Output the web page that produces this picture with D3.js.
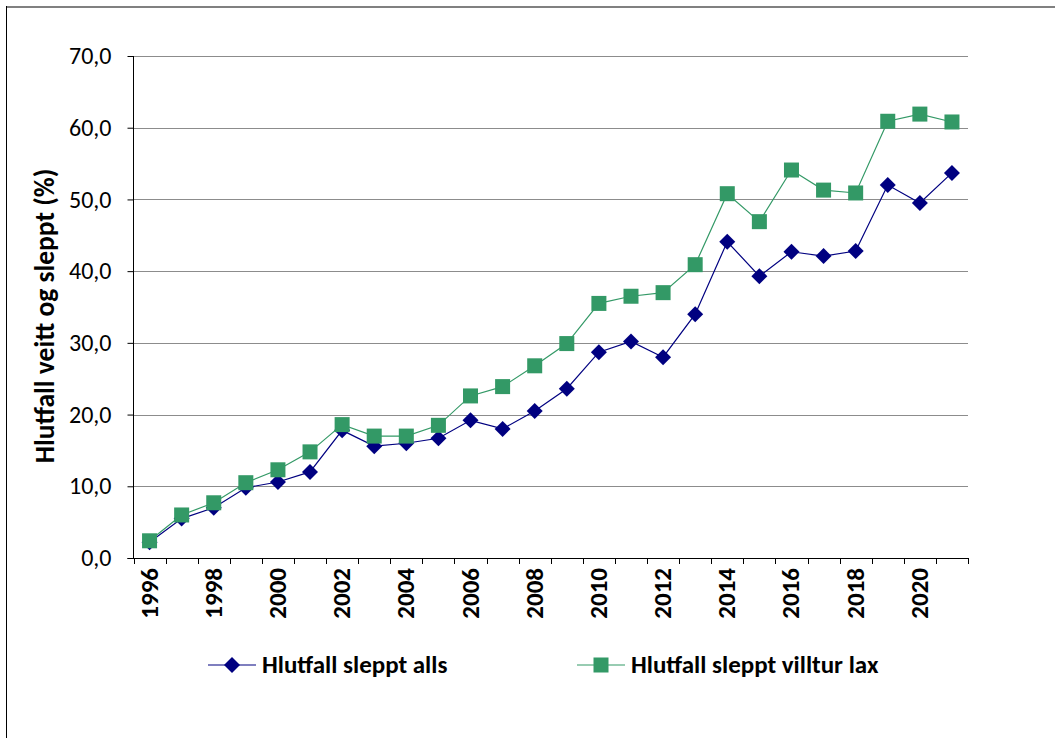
<!DOCTYPE html>
<html>
<head>
<meta charset="utf-8">
<style type="text/css">
    body { margin: 0; background: #fff; }
    svg { display: block; }
    .tick text { font-family: Carlito, Calibri, "Open Sans", sans-serif; }
    .grid line { stroke: #8c8c8c; stroke-width: 1; }
    .lbl { font-family: Carlito, Calibri, "Open Sans", sans-serif; font-weight: bold; fill: #000; }
</style>
</head>
<body>
<svg id="chart"></svg>
<script src="https://d3js.org/d3.v7.min.js"></script>
<script type="text/javascript">
var years = d3.range(1996, 2022);
var sleptAlls = [2.2, 5.5, 7.0, 9.8, 10.6, 12.0, 17.8, 15.6, 16.0, 16.7, 19.2, 18.0, 20.5, 23.6,
    28.7, 30.2, 28.0, 34.0, 44.1, 39.3, 42.7, 42.1, 42.8, 52.0, 49.5, 53.7];
var sleptVilltur = [2.4, 6.0, 7.7, 10.5, 12.3, 14.8, 18.6, 17.0, 17.0, 18.5, 22.6, 23.9, 26.8, 29.9,
    35.5, 36.5, 37.0, 40.9, 50.8, 46.9, 54.1, 51.3, 50.9, 60.9, 61.9, 60.8];
var yTicks = [0, 10, 20, 30, 40, 50, 60, 70];
var seriesNames = ["Hlutfall sleppt alls", "Hlutfall sleppt villtur lax"];

var W = 1055, H = 738;
var svg = d3.select("#chart").attr("width", W).attr("height", H);

// frame
svg.append("line").attr("x1", 6).attr("x2", W).attr("y1", 7).attr("y2", 7)
    .attr("stroke", "#808080").attr("stroke-width", 2);
svg.append("line").attr("x1", 6.5).attr("x2", 6.5).attr("y1", 6).attr("y2", H)
    .attr("stroke", "#000").attr("stroke-width", 1);

var pLeft = 133.5, pRight = 968, pTop = 56, pBottom = 558;

var x = d3.scaleBand().domain(years).range([pLeft, pRight]).padding(0);
var y = d3.scaleLinear().domain([0, 70]).range([pBottom, pTop]);

// gridlines
svg.append("g").attr("class", "grid")
    .selectAll("line").data(yTicks.filter(function(d) { return d > 0; }))
    .enter().append("line")
    .attr("x1", pLeft).attr("x2", pRight)
    .attr("y1", function(d) { return Math.round(y(d)) + 0.5; })
    .attr("y2", function(d) { return Math.round(y(d)) + 0.5; });

// y axis
var yAxis = svg.append("g").attr("transform", "translate(" + pLeft + ",0)")
    .call(d3.axisLeft(y).tickValues(yTicks).tickSize(6).tickPadding(16)
        .tickFormat(function(d) { return d3.format(".1f")(d).replace(".", ","); }));
yAxis.selectAll("text").attr("font-size", 24).attr("fill", "#000");
yAxis.selectAll("line, path").attr("stroke", "#000");
yAxis.select(".domain").attr("d", "M0," + pBottom + "V" + pTop);

// x axis
var xAxis = svg.append("g").attr("transform", "translate(0," + pBottom + ")");
xAxis.append("line").attr("x1", pLeft - 6).attr("x2", pRight).attr("y1", 0.5).attr("y2", 0.5)
    .attr("stroke", "#000");
var bounds = years.map(function(d) { return x(d); }).concat([pRight]);
xAxis.selectAll("line.tk").data(bounds).enter().append("line").attr("class", "tk")
    .attr("x1", function(d) { return Math.round(d) + 0.5; })
    .attr("x2", function(d) { return Math.round(d) + 0.5; })
    .attr("y1", 0).attr("y2", 6).attr("stroke", "#000");
xAxis.selectAll("text").data(years.filter(function(d) { return d % 2 === 0; }))
    .enter().append("text").attr("class", "lbl")
    .attr("transform", function(d) {
        return "translate(" + (x(d) + x.bandwidth() / 2 + 8) + ",10) rotate(-90)";
    })
    .attr("text-anchor", "end")
    .attr("font-size", 25)
    .text(function(d) { return d; });

// y title
svg.append("text").attr("class", "lbl")
    .attr("transform", "translate(54,316) rotate(-90)")
    .attr("text-anchor", "middle").attr("font-size", 27.5)
    .text("Hlutfall veitt og sleppt (%)");

var line = d3.line()
    .x(function(d, i) { return x(years[i]) + x.bandwidth() / 2; })
    .y(function(d) { return y(d); });

var blue = "#000080", green = "#339966";

function diamond(g, cx, cy) {
    g.append("path").attr("d", "M" + cx + "," + (cy - 8) + "L" + (cx + 8) + "," + cy +
        "L" + cx + "," + (cy + 8) + "L" + (cx - 8) + "," + cy + "Z").attr("fill", blue);
}
function square(g, cx, cy) {
    g.append("rect").attr("x", cx - 7.5).attr("y", cy - 7.5).attr("width", 15).attr("height", 15)
        .attr("fill", green);
}

var g1 = svg.append("g");
g1.append("path").datum(sleptAlls).attr("d", line).attr("fill", "none")
    .attr("stroke", blue).attr("stroke-width", 1.2);
sleptAlls.forEach(function(v, i) { diamond(g1, x(years[i]) + x.bandwidth() / 2, y(v)); });

var g2 = svg.append("g");
g2.append("path").datum(sleptVilltur).attr("d", line).attr("fill", "none")
    .attr("stroke", green).attr("stroke-width", 1.2);
sleptVilltur.forEach(function(v, i) { square(g2, x(years[i]) + x.bandwidth() / 2, y(v)); });

// legend
var ly = 665;
var lg = svg.append("g");
lg.append("line").attr("x1", 208).attr("x2", 256).attr("y1", ly).attr("y2", ly)
    .attr("stroke", blue).attr("stroke-width", 1.2);
diamond(lg, 232, ly);
lg.append("text").attr("class", "lbl").attr("x", 262).attr("y", ly + 8)
    .attr("font-size", 25).text(seriesNames[0]);
lg.append("line").attr("x1", 577).attr("x2", 625).attr("y1", ly).attr("y2", ly)
    .attr("stroke", green).attr("stroke-width", 1.2);
square(lg, 601, ly);
lg.append("text").attr("class", "lbl").attr("x", 631).attr("y", ly + 8)
    .attr("font-size", 25).text(seriesNames[1]);
</script>
</body>
</html>
